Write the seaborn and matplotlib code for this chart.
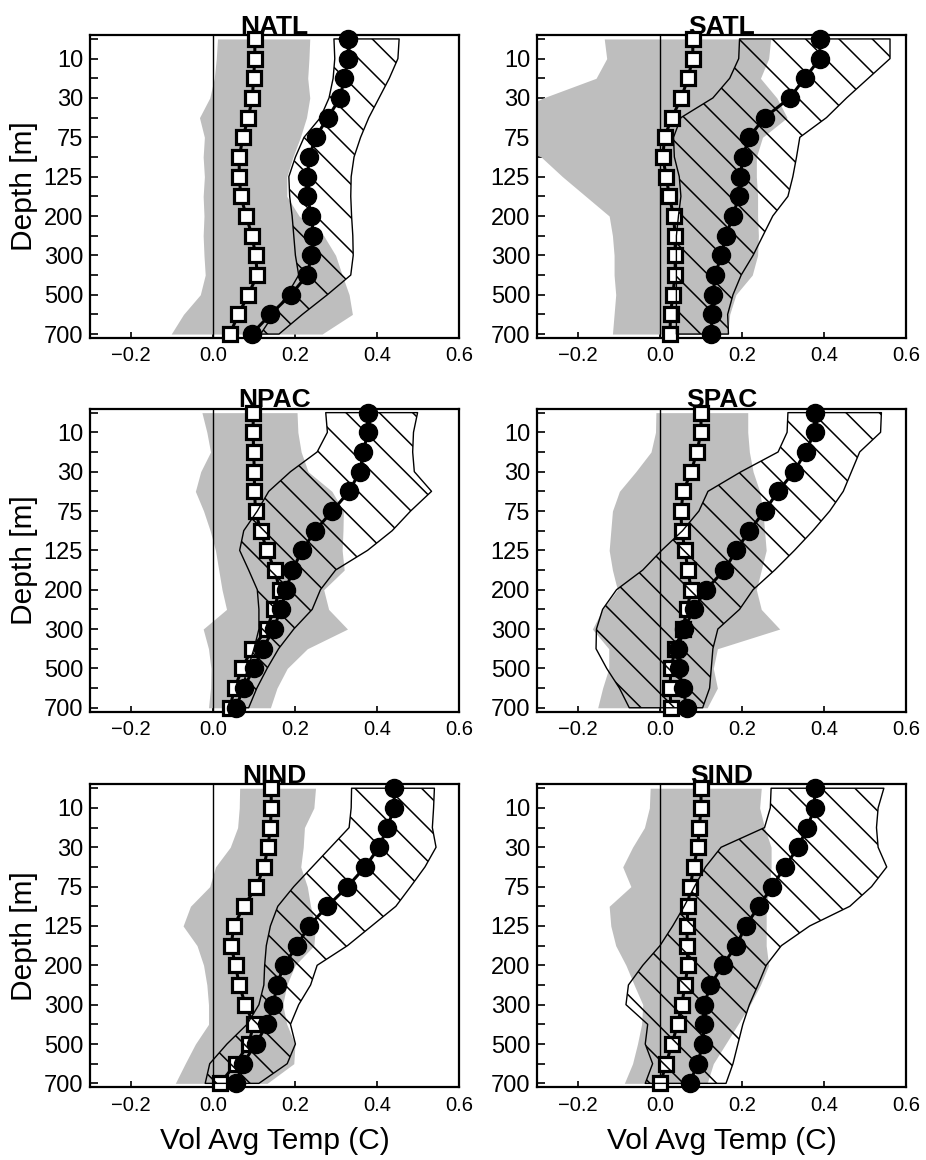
import numpy as np
import matplotlib
matplotlib.use("Agg")
import matplotlib.pyplot as plt
import seaborn as sns

# ---------------- data ----------------
depths = [0, 10, 20, 30, 50, 75, 100, 125, 150, 200, 250, 300, 400, 500, 600, 700]
regions = ["NATL", "SATL", "NPAC", "SPAC", "NIND", "SIND"]
xticks = [-0.2, 0.0, 0.2, 0.4, 0.6]

NATL_circ = [0.33, 0.33, 0.32, 0.31, 0.28, 0.25, 0.235, 0.23, 0.23, 0.24, 0.245, 0.24, 0.23, 0.19, 0.14, 0.094]
NATL_sq = [0.102, 0.102, 0.099, 0.096, 0.086, 0.073, 0.064, 0.064, 0.068, 0.081, 0.095, 0.104, 0.108, 0.086, 0.062, 0.041]
NATL_grey_lo = [0.011, 0.008, 0.003, -0.008, -0.033, -0.021, -0.024, -0.021, -0.024, -0.022, -0.024, -0.022, -0.019, -0.031, -0.072, -0.102]
NATL_grey_hi = [0.236, 0.234, 0.231, 0.236, 0.228, 0.213, 0.195, 0.18, 0.18, 0.21, 0.27, 0.299, 0.315, 0.332, 0.34, 0.266]
NATL_hatch_lo = [0.295, 0.297, 0.293, 0.283, 0.262, 0.222, 0.201, 0.185, 0.187, 0.193, 0.197, 0.201, 0.209, 0.181, 0.148, 0.116]
NATL_hatch_hi = [0.454, 0.451, 0.43, 0.405, 0.38, 0.36, 0.344, 0.337, 0.336, 0.338, 0.341, 0.342, 0.336, 0.279, 0.218, 0.161]

SATL_circ = [0.39, 0.39, 0.353, 0.316, 0.255, 0.217, 0.202, 0.196, 0.192, 0.178, 0.161, 0.149, 0.135, 0.129, 0.127, 0.125]
SATL_sq = [0.08, 0.08, 0.068, 0.052, 0.029, 0.011, 0.007, 0.015, 0.023, 0.033, 0.037, 0.037, 0.037, 0.031, 0.026, 0.024]
SATL_grey_lo = [-0.136, -0.13, -0.156, -0.285, -0.38, -0.40, -0.29, -0.238, -0.181, -0.124, -0.116, -0.112, -0.112, -0.108, -0.112, -0.116]
SATL_grey_hi = [0.27, 0.265, 0.245, 0.285, 0.31, 0.25, 0.235, 0.235, 0.238, 0.238, 0.24, 0.238, 0.225, 0.185, 0.17, 0.165]
SATL_hatch_lo = [0.194, 0.192, 0.17, 0.129, 0.051, 0.033, 0.035, 0.047, 0.051, 0.045, 0.04, 0.04, 0.04, 0.04, 0.04, 0.04]
SATL_hatch_hi = [0.561, 0.561, 0.508, 0.455, 0.406, 0.341, 0.333, 0.324, 0.312, 0.275, 0.251, 0.227, 0.198, 0.178, 0.165, 0.167]

NPAC_circ = [0.377, 0.377, 0.367, 0.358, 0.332, 0.291, 0.249, 0.218, 0.193, 0.179, 0.165, 0.148, 0.121, 0.099, 0.075, 0.055]
NPAC_sq = [0.098, 0.098, 0.099, 0.101, 0.101, 0.104, 0.116, 0.132, 0.15, 0.163, 0.148, 0.132, 0.095, 0.071, 0.053, 0.041]
NPAC_grey_lo = [-0.027, -0.015, -0.006, -0.03, -0.043, -0.023, -0.007, 0.006, 0.014, 0.022, 0.033, -0.024, -0.011, -0.005, -0.006, -0.011]
NPAC_grey_hi = [0.205, 0.207, 0.215, 0.232, 0.29, 0.318, 0.317, 0.315, 0.32, 0.27, 0.282, 0.328, 0.23, 0.181, 0.156, 0.14]
NPAC_hatch_lo = [0.275, 0.279, 0.254, 0.189, 0.136, 0.108, 0.075, 0.065, 0.087, 0.108, 0.112, 0.112, 0.1, 0.085, 0.07, 0.058]
NPAC_hatch_hi = [0.499, 0.489, 0.487, 0.491, 0.533, 0.482, 0.437, 0.377, 0.299, 0.262, 0.242, 0.197, 0.16, 0.132, 0.107, 0.087]

SPAC_circ = [0.377, 0.377, 0.355, 0.327, 0.288, 0.255, 0.218, 0.186, 0.157, 0.112, 0.082, 0.059, 0.043, 0.046, 0.055, 0.066]
SPAC_sq = [0.1, 0.1, 0.09, 0.076, 0.057, 0.051, 0.053, 0.061, 0.068, 0.076, 0.066, 0.055, 0.037, 0.027, 0.024, 0.027]
SPAC_grey_lo = [-0.01, -0.011, -0.022, -0.059, -0.099, -0.116, -0.12, -0.124, -0.116, -0.104, -0.14, -0.165, -0.125, -0.125, -0.14, -0.152]
SPAC_grey_hi = [0.214, 0.214, 0.218, 0.227, 0.243, 0.251, 0.255, 0.259, 0.247, 0.235, 0.247, 0.292, 0.14, 0.13, 0.14, 0.115]
SPAC_hatch_lo = [0.312, 0.31, 0.288, 0.198, 0.117, 0.095, 0.055, 0.004, -0.042, -0.106, -0.14, -0.155, -0.156, -0.13, -0.099, -0.075]
SPAC_hatch_hi = [0.54, 0.538, 0.487, 0.467, 0.447, 0.414, 0.373, 0.328, 0.28, 0.227, 0.194, 0.141, 0.129, 0.125, 0.121, 0.104]

NIND_circ = [0.442, 0.442, 0.425, 0.405, 0.371, 0.328, 0.279, 0.234, 0.205, 0.173, 0.156, 0.147, 0.132, 0.104, 0.073, 0.055]
NIND_sq = [0.142, 0.142, 0.14, 0.134, 0.124, 0.106, 0.075, 0.051, 0.044, 0.055, 0.064, 0.079, 0.099, 0.087, 0.055, 0.018]
NIND_grey_lo = [0.065, 0.064, 0.06, 0.042, 0.006, -0.008, -0.055, -0.073, -0.039, -0.023, -0.015, -0.011, -0.011, -0.043, -0.068, -0.092]
NIND_grey_hi = [0.25, 0.246, 0.223, 0.22, 0.214, 0.23, 0.238, 0.25, 0.246, 0.2, 0.18, 0.17, 0.18, 0.2, 0.197, 0.132]
NIND_hatch_lo = [0.338, 0.337, 0.332, 0.287, 0.242, 0.197, 0.158, 0.14, 0.13, 0.126, 0.124, 0.112, 0.083, 0.034, -0.008, -0.019]
NIND_hatch_hi = [0.54, 0.538, 0.535, 0.544, 0.517, 0.482, 0.446, 0.387, 0.328, 0.254, 0.238, 0.209, 0.189, 0.201, 0.181, 0.112]

SIND_circ = [0.377, 0.377, 0.359, 0.337, 0.304, 0.274, 0.241, 0.209, 0.186, 0.153, 0.123, 0.108, 0.108, 0.104, 0.092, 0.072]
SIND_sq = [0.1, 0.1, 0.096, 0.092, 0.082, 0.074, 0.068, 0.066, 0.066, 0.068, 0.061, 0.053, 0.043, 0.029, 0.015, 0.001]
SIND_grey_lo = [-0.024, -0.026, -0.038, -0.067, -0.091, -0.071, -0.124, -0.12, -0.108, -0.083, -0.063, -0.042, -0.045, -0.055, -0.067, -0.087]
SIND_grey_hi = [0.247, 0.243, 0.255, 0.271, 0.271, 0.267, 0.259, 0.259, 0.259, 0.265, 0.245, 0.22, 0.19, 0.16, 0.13, 0.115]
SIND_hatch_lo = [0.271, 0.269, 0.255, 0.149, 0.111, 0.084, 0.059, 0.031, 0.0, -0.042, -0.077, -0.083, -0.03, -0.036, -0.018, -0.036]
SIND_hatch_hi = [0.546, 0.532, 0.528, 0.532, 0.553, 0.516, 0.463, 0.365, 0.296, 0.259, 0.239, 0.218, 0.202, 0.19, 0.178, 0.161]

panels = [
    (NATL_circ, NATL_sq, NATL_grey_lo, NATL_grey_hi, NATL_hatch_lo, NATL_hatch_hi),
    (SATL_circ, SATL_sq, SATL_grey_lo, SATL_grey_hi, SATL_hatch_lo, SATL_hatch_hi),
    (NPAC_circ, NPAC_sq, NPAC_grey_lo, NPAC_grey_hi, NPAC_hatch_lo, NPAC_hatch_hi),
    (SPAC_circ, SPAC_sq, SPAC_grey_lo, SPAC_grey_hi, SPAC_hatch_lo, SPAC_hatch_hi),
    (NIND_circ, NIND_sq, NIND_grey_lo, NIND_grey_hi, NIND_hatch_lo, NIND_hatch_hi),
    (SIND_circ, SIND_sq, SIND_grey_lo, SIND_grey_hi, SIND_hatch_lo, SIND_hatch_hi),
]

# ---------------- style ----------------
sns.set_style("white")
plt.rcParams["font.family"] = ["Liberation Sans", "DejaVu Sans"]
plt.rcParams["hatch.linewidth"] = 1.1
plt.rcParams["axes.unicode_minus"] = True
for key in ["text.color", "axes.labelcolor", "xtick.color", "ytick.color",
            "axes.edgecolor", "axes.titlecolor"]:
    plt.rcParams[key] = "black"

fig = plt.figure(figsize=(9.26, 11.6), dpi=100)
col_x = [90 / 926, 537 / 926]
ax_w = 369 / 926
row_y = [1 - 338 / 1160, 1 - 711.7 / 1160, 1 - 1087.3 / 1160]
ax_h = 303 / 1160

lev = np.arange(len(depths))
ylabels = [str(d) if i % 2 == 1 else "" for i, d in enumerate(depths)]

for k, (name, (circ, sq, glo, ghi, hlo, hhi)) in enumerate(zip(regions, panels)):
    r, c = divmod(k, 2)
    ax = fig.add_axes([col_x[c], row_y[r], ax_w, ax_h])
    ax.fill_betweenx(lev, glo, ghi, color="#bebebe", lw=0, zorder=1)
    ax.axvline(0, color="black", lw=1.0, zorder=2)
    sns.lineplot(x=np.array(sq), y=lev, sort=False, estimator=None, ax=ax,
                 color="black", lw=2.2, marker="s", ms=9.5,
                 markerfacecolor="white", markeredgecolor="black",
                 markeredgewidth=2.3, clip_on=False, zorder=3)
    ax.fill_betweenx(lev, hlo, hhi, facecolor="none", edgecolor="black",
                     hatch="\\", lw=1.0, zorder=4)
    sns.lineplot(x=np.array(circ), y=lev, sort=False, estimator=None, ax=ax,
                 color="black", lw=2.2, marker="o", ms=13,
                 markerfacecolor="black", markeredgecolor="black",
                 markeredgewidth=1, clip_on=False, zorder=5)

    ax.set_xlim(-0.3, 0.6)
    ax.set_ylim(15.2, -0.2)
    ax.set_yticks(lev)
    ax.set_yticklabels(ylabels)
    ax.set_xticks(xticks)
    ax.set_xticklabels([f"{v:.1f}".replace("-", "\u2212") for v in xticks])
    ax.tick_params(axis="y", direction="in", length=6, width=1.2,
                   labelsize=17, pad=5, left=True, right=False, colors="black")
    ax.tick_params(axis="x", direction="in", length=4.5, width=1.2,
                   labelsize=14.5, pad=6, bottom=True, top=False, colors="black")
    for sp in ax.spines.values():
        sp.set_linewidth(1.6)
        sp.set_color("black")
        sp.set_visible(True)
    ax.set_title(name, fontsize=19, fontweight="bold", pad=1, color="black")
    ax.set_ylabel("Depth [m]" if c == 0 else "", fontsize=21.5, labelpad=4,
                  color="black")
    ax.set_xlabel("Vol Avg Temp (C)" if r == 2 else "", fontsize=21.5,
                  labelpad=9, color="black")

fig.savefig("out.png", dpi=100)
